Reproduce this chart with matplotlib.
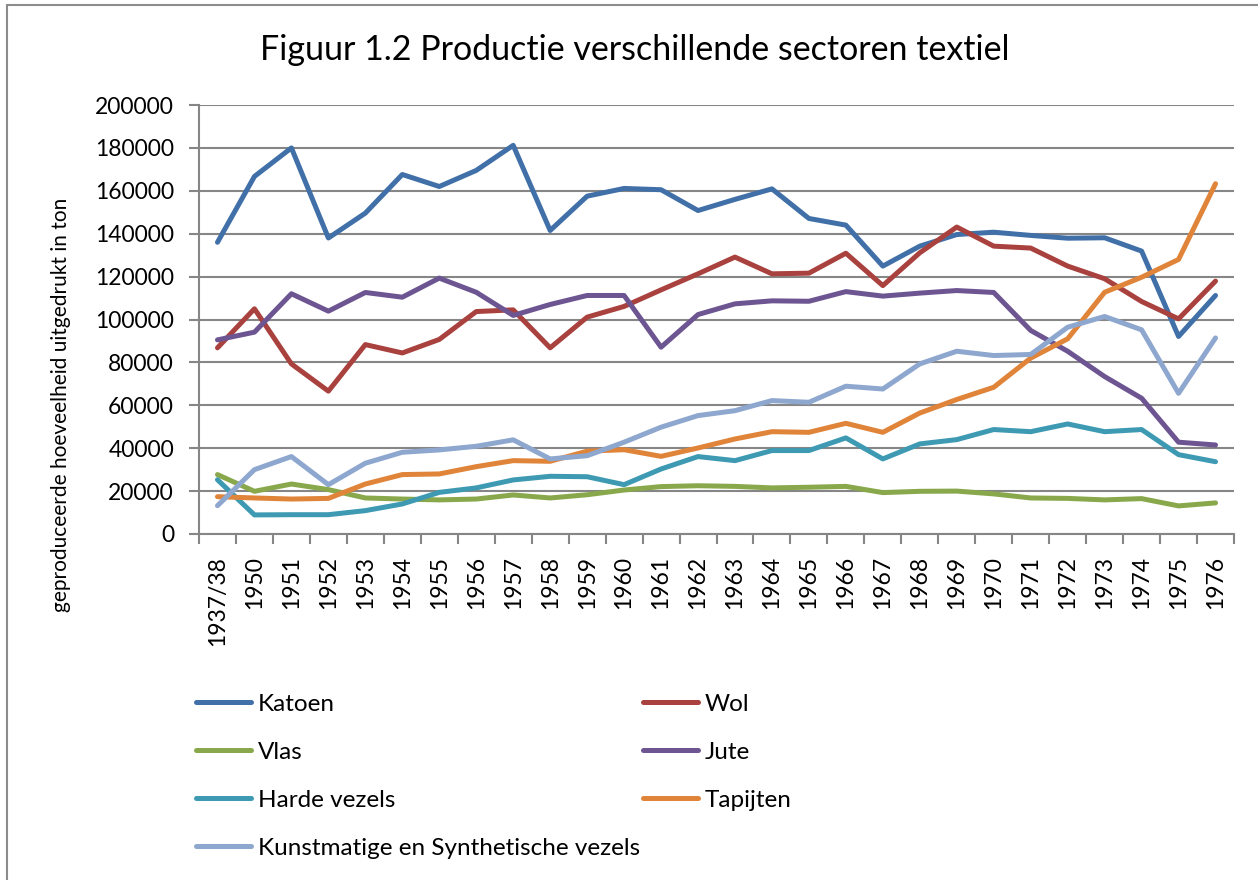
import matplotlib
matplotlib.use("Agg")
import matplotlib.pyplot as plt
from matplotlib.patches import Rectangle

plt.rcParams['font.family'] = ['Lato', 'DejaVu Sans']

# ------------------------------------------
# Data
# ------------------------------------------
jaren = ["1937/38"] + [str(j) for j in range(1950, 1977)]

katoen = [136000, 166700, 180000, 138000, 149600, 167600, 162000, 169500, 181200, 141500,
          157500, 161100, 160500, 150800, 156000, 160900, 147100, 144000, 124900, 134200,
          139600, 140700, 139200, 137900, 138100, 131900, 92100, 111200]
wol = [86800, 105000, 79300, 66600, 88300, 84400, 90700, 103700, 104500, 86800,
       101100, 106100, 113800, 121300, 129100, 121300, 121600, 130900, 115800, 131100,
       143100, 134200, 133300, 124900, 119000, 108400, 100300, 117900]
vlas = [27700, 19900, 23300, 20700, 16800, 16300, 15900, 16300, 18200, 16800,
        18300, 20500, 22100, 22500, 22200, 21500, 21800, 22200, 19300, 19900,
        20000, 18700, 16800, 16600, 15900, 16500, 13100, 14500]
jute = [90500, 94100, 112000, 103900, 112600, 110400, 119300, 112700, 101900, 107000,
        111200, 111200, 87100, 102300, 107300, 108700, 108500, 113000, 110900, 112300,
        113500, 112600, 94900, 85200, 73400, 63300, 42800, 41500]
harde_vezels = [25300, 8900, 9000, 9000, 10900, 14000, 19400, 21500, 25200, 26900,
                26700, 23000, 30300, 36100, 34200, 38900, 38900, 44800, 35000, 42000,
                44000, 48700, 47700, 51300, 47700, 48700, 37000, 33700]
tapijten = [17400, 16800, 16300, 16600, 23300, 27700, 28000, 31400, 34200, 33900,
            38600, 39300, 36200, 40100, 44300, 47700, 47400, 51600, 47400, 56400,
            62700, 68400, 82000, 91000, 112700, 119700, 128000, 163300]
kunstmatig = [13200, 30000, 36100, 23000, 33000, 38100, 39200, 40900, 43900, 35000,
              36500, 42800, 49800, 55200, 57500, 62200, 61400, 68900, 67600, 79300,
              85200, 83200, 83700, 96400, 101400, 95200, 65600, 91400]

series = [
    ("Katoen", katoen, "#4170A8"),
    ("Wol", wol, "#A9423E"),
    ("Vlas", vlas, "#89A84B"),
    ("Jute", jute, "#6D5592"),
    ("Harde vezels", harde_vezels, "#3D9AB2"),
    ("Tapijten", tapijten, "#E0843A"),
    ("Kunstmatige en Synthetische vezels", kunstmatig, "#8EA7CF"),
]

# ------------------------------------------
# Figure
# ------------------------------------------
fig = plt.figure(figsize=(12.58, 8.80), dpi=100)
fig.patches.append(Rectangle((7 / 1258, -0.1), 1.2, 1.1 - 5 / 880,
                             transform=fig.transFigure, fill=False,
                             edgecolor="#8c8c8c", linewidth=1.5))

ax = fig.add_axes([199 / 1258, 1 - 534 / 880, (1234 - 199) / 1258, (534 - 105) / 880])

x = list(range(len(jaren)))
lines = []
for naam, waarden, kleur in series:
    ln, = ax.plot(x, waarden, color=kleur, linewidth=3.6, label=naam,
                  solid_joinstyle="round", solid_capstyle="round")
    lines.append(ln)

ax.set_xlim(-0.5, len(jaren) - 0.5)
ax.set_ylim(0, 200000)
ax.set_yticks(range(0, 200001, 20000))
ax.set_xticks([i - 0.5 for i in range(len(jaren) + 1)], minor=False)
ax.set_xticklabels([])
ax.set_xticks(x, minor=True)
ax.set_xticklabels(jaren, minor=True, rotation=90, fontsize=16.5)
ax.tick_params(axis="x", which="minor", length=0, pad=16)
ax.tick_params(axis="x", which="major", length=7, color="#868686", width=1.5)
ax.tick_params(axis="y", length=7, color="#868686", width=1.5, labelsize=16.5, pad=11)

ax.grid(axis="y", color="#868686", linewidth=1.5)
ax.set_axisbelow(True)
for s in ["top", "right"]:
    ax.spines[s].set_visible(False)
for s in ["left", "bottom"]:
    ax.spines[s].set_color("#868686")
    ax.spines[s].set_linewidth(1.5)

ax.set_ylabel("geproduceerde hoeveelheid uitgedrukt in ton", fontsize=15)
ax.yaxis.set_label_coords(-0.124, 0.3)

fig.text(635 / 1258, 1 - 50 / 880, "Figuur 1.2 Productie verschillende sectoren textiel",
         ha="center", va="center", fontsize=24.5)

# legend in two columns below the chart (row by row, as in the original)
volgorde = [0, 2, 4, 6, 1, 3, 5]
fig.legend(handles=[lines[i] for i in volgorde], loc="upper left",
           bbox_to_anchor=(174 / 1258, 1 - 672 / 880),
           ncol=2, frameon=False, fontsize=17.5, handlelength=2.26, handletextpad=0.3,
           columnspacing=0.1, labelspacing=1.11)

plt.savefig("out.png", dpi=100)
plt.close()
